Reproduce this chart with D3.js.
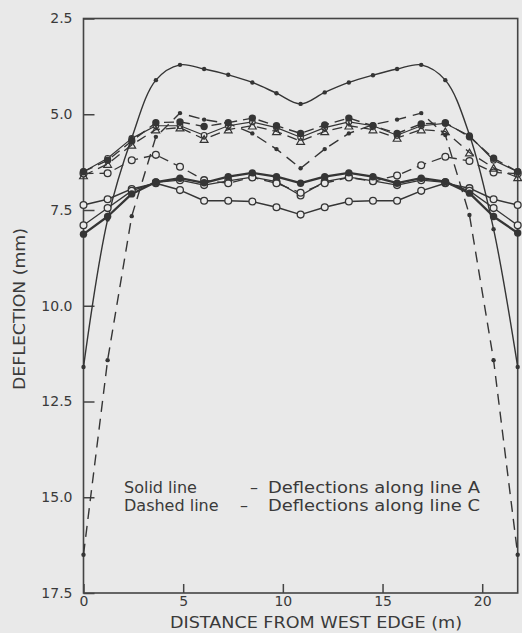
<!DOCTYPE html>
<html><head><meta charset="utf-8">
<script src="https://cdn.jsdelivr.net/npm/d3@7"></script>
<style>
html,body{margin:0;padding:0;background:#e9e9e9;}
svg{display:block;}
text{font-family:"DejaVu Sans",sans-serif;fill:#3a3a3a;}
</style></head><body>
<svg id="chart" width="522" height="633"></svg>
<script>
// ---- data ----
const distance = [0, 1.21, 2.42, 3.63, 4.84, 6.05, 7.26, 8.47, 9.68, 10.89, 12.1, 13.31, 14.52, 15.73, 16.94, 18.15, 19.36, 20.57, 21.78];
const yTicks = [2.5, 5.0, 7.5, 10.0, 12.5, 15.0, 17.5];
const xTicks = [0, 5, 10, 15, 20];

// Solid lines: deflections along line A (mm)
const lineA_smallDot = [11.6, 7.75, 5.62, 4.11, 3.71, 3.82, 3.97, 4.17, 4.45, 4.73, 4.43, 4.17, 3.98, 3.82, 3.71, 4.11, 5.54, 8.0, 11.6];
const lineA_bigDot   = [8.13, 7.67, 7.08, 6.77, 6.67, 6.79, 6.63, 6.53, 6.63, 6.8, 6.63, 6.53, 6.63, 6.8, 6.67, 6.76, 7.06, 7.67, 8.1];
const lineA_circle   = [7.9, 7.45, 7.0, 6.78, 6.72, 6.85, 6.74, 6.64, 6.76, 7.12, 6.76, 6.64, 6.74, 6.85, 6.72, 6.78, 7.0, 7.45, 7.9];
const lineA_lowCircle= [7.37, 7.22, 6.95, 6.8, 6.98, 7.26, 7.26, 7.28, 7.43, 7.62, 7.43, 7.28, 7.26, 7.26, 7.0, 6.8, 6.93, 7.22, 7.37];
const lineA_upper    = [6.5, 6.15, 5.63, 5.3, 5.3, 5.55, 5.3, 5.2, 5.35, 5.6, 5.35, 5.2, 5.3, 5.55, 5.3, 5.24, 5.56, 6.2, 6.5];

// Dashed lines: deflections along line C (mm)
const lineC_smallDot = [16.5, 11.42, 7.66, 5.59, 4.97, 5.14, 5.24, 5.5, 5.91, 6.41, 5.91, 5.5, 5.27, 5.14, 4.97, 5.54, 7.63, 11.42, 16.5];
const lineC_bigDot   = [6.5, 6.2, 5.7, 5.22, 5.2, 5.32, 5.22, 5.1, 5.3, 5.5, 5.28, 5.1, 5.3, 5.5, 5.25, 5.22, 5.59, 6.15, 6.5];
const lineC_circle   = [6.55, 6.54, 6.2, 6.06, 6.37, 6.72, 6.8, 6.65, 6.8, 7.05, 6.8, 6.65, 6.75, 6.6, 6.33, 6.11, 6.22, 6.52, 6.55];
const lineC_triangle = [6.6, 6.3, 5.8, 5.4, 5.35, 5.65, 5.4, 5.3, 5.45, 5.7, 5.45, 5.3, 5.4, 5.62, 5.4, 5.45, 6.0, 6.4, 6.65];

const legendLabels = ["Solid line", "Dashed line"];
const legendTexts = ["Deflections along line A", "Deflections along line C"];
const xTitle = "DISTANCE FROM WEST EDGE (m)";
const yTitle = "DEFLECTION (mm)";

// ---- series table ----
const series = [
  {v: lineA_lowCircle, dash: null, mark: "circle", w: 1.5},
  {v: lineA_circle, dash: null, mark: "circle", w: 1.3},
  {v: lineA_upper, dash: null, mark: "circleSmall", w: 1.2},
  {v: lineC_circle, dash: "10,6", mark: "circle", w: 1.3},
  {v: lineC_triangle, dash: "10,6", mark: "triangle", w: 1.3},
  {v: lineC_bigDot, dash: "10,6", mark: "big", w: 1.4},
  {v: lineC_smallDot, dash: "11,7", mark: "small", w: 1.4},
  {v: lineA_bigDot, dash: null, mark: "big", w: 2.3},
  {v: lineA_smallDot, dash: null, mark: "small", w: 1.4, smooth: true}
];

const ink = "#353535", bg = "#e9e9e9";
const svg = d3.select("#chart");
svg.append("rect").attr("width", 522).attr("height", 633).attr("fill", bg);

const x = d3.scaleLinear().domain([0, 21.78]).range([83.5, 517.7]);
const y = d3.scaleLinear().domain([2.5, 17.5]).range([18.5, 593]);

// frame
svg.append("rect")
  .attr("x", x(0)).attr("y", y(2.5))
  .attr("width", x(21.78) - x(0)).attr("height", y(17.5) - y(2.5))
  .attr("fill", "none").attr("stroke", "#444").attr("stroke-width", 1.6);

// y axis
const gy = svg.append("g").attr("transform", `translate(${x(0)},0)`)
  .call(d3.axisLeft(y).tickValues(yTicks).tickSize(-11).tickPadding(11).tickFormat(d3.format(".1f")));
gy.select(".domain").remove();
gy.selectAll("line").attr("stroke", "#444").attr("stroke-width", 1.5);
gy.selectAll("text").attr("font-size", 14).attr("fill", "#3a3a3a").style("font-family", "DejaVu Sans");

// x axis
const gx = svg.append("g").attr("transform", `translate(0,${y(17.5)})`)
  .call(d3.axisBottom(x).tickValues(xTicks).tickSize(-9).tickPadding(3).tickFormat(d3.format("d")));
gx.select(".domain").remove();
gx.selectAll("line").attr("stroke", "#444").attr("stroke-width", 1.5);
gx.selectAll("text").attr("font-size", 14).attr("fill", "#3a3a3a").style("font-family", "DejaVu Sans");

// titles
svg.append("text").attr("x", 316).attr("y", 628).attr("text-anchor", "middle")
  .attr("font-size", 15).attr("textLength", 292).attr("lengthAdjust", "spacingAndGlyphs").text(xTitle);
svg.append("text").attr("transform", "translate(25,309) rotate(-90)").attr("text-anchor", "middle")
  .attr("font-size", 15).attr("textLength", 162).attr("lengthAdjust", "spacingAndGlyphs").text(yTitle);

// lines
const plot = svg.append("g");
series.forEach(s => {
  const line = d3.line().x((d, i) => x(distance[i])).y(d => y(d))
    .curve(s.smooth ? d3.curveCatmullRom.alpha(0.5) : d3.curveLinear);
  plot.append("path").datum(s.v).attr("d", line)
    .attr("fill", "none").attr("stroke", ink).attr("stroke-width", s.w)
    .attr("stroke-dasharray", s.dash).attr("stroke-linejoin", "round");
});
// markers
series.forEach(s => {
  const g = plot.append("g");
  s.v.forEach((d, i) => {
    const cx = x(distance[i]), cy = y(d);
    if (s.mark === "small") {
      g.append("circle").attr("cx", cx).attr("cy", cy).attr("r", 2.2).attr("fill", ink);
    } else if (s.mark === "big") {
      g.append("circle").attr("cx", cx).attr("cy", cy).attr("r", 3.7).attr("fill", ink);
    } else if (s.mark === "circle") {
      g.append("circle").attr("cx", cx).attr("cy", cy).attr("r", 3.4).attr("fill", bg).attr("stroke", ink).attr("stroke-width", 1.3);
    } else if (s.mark === "circleSmall") {
      g.append("circle").attr("cx", cx).attr("cy", cy).attr("r", 2.8).attr("fill", bg).attr("stroke", ink).attr("stroke-width", 1.2);
    } else if (s.mark === "triangle") {
      g.append("path").attr("transform", `translate(${cx},${cy + 1})`)
        .attr("d", d3.symbol(d3.symbolTriangle, 26)()).attr("fill", "none").attr("stroke", ink).attr("stroke-width", 1.2);
    }
  });
});

// legend text
const lg = svg.append("g").attr("font-size", 16);
legendLabels.forEach((t, k) => {
  const by = 493 + k * 18;
  lg.append("text").attr("x", 124).attr("y", by).text(t);
  lg.append("text").attr("x", k === 0 ? 250 : 240).attr("y", by).text("–");
  lg.append("text").attr("x", 268).attr("y", by).attr("textLength", 212).attr("lengthAdjust", "spacingAndGlyphs").text(legendTexts[k]);
});
</script>
</body></html>
